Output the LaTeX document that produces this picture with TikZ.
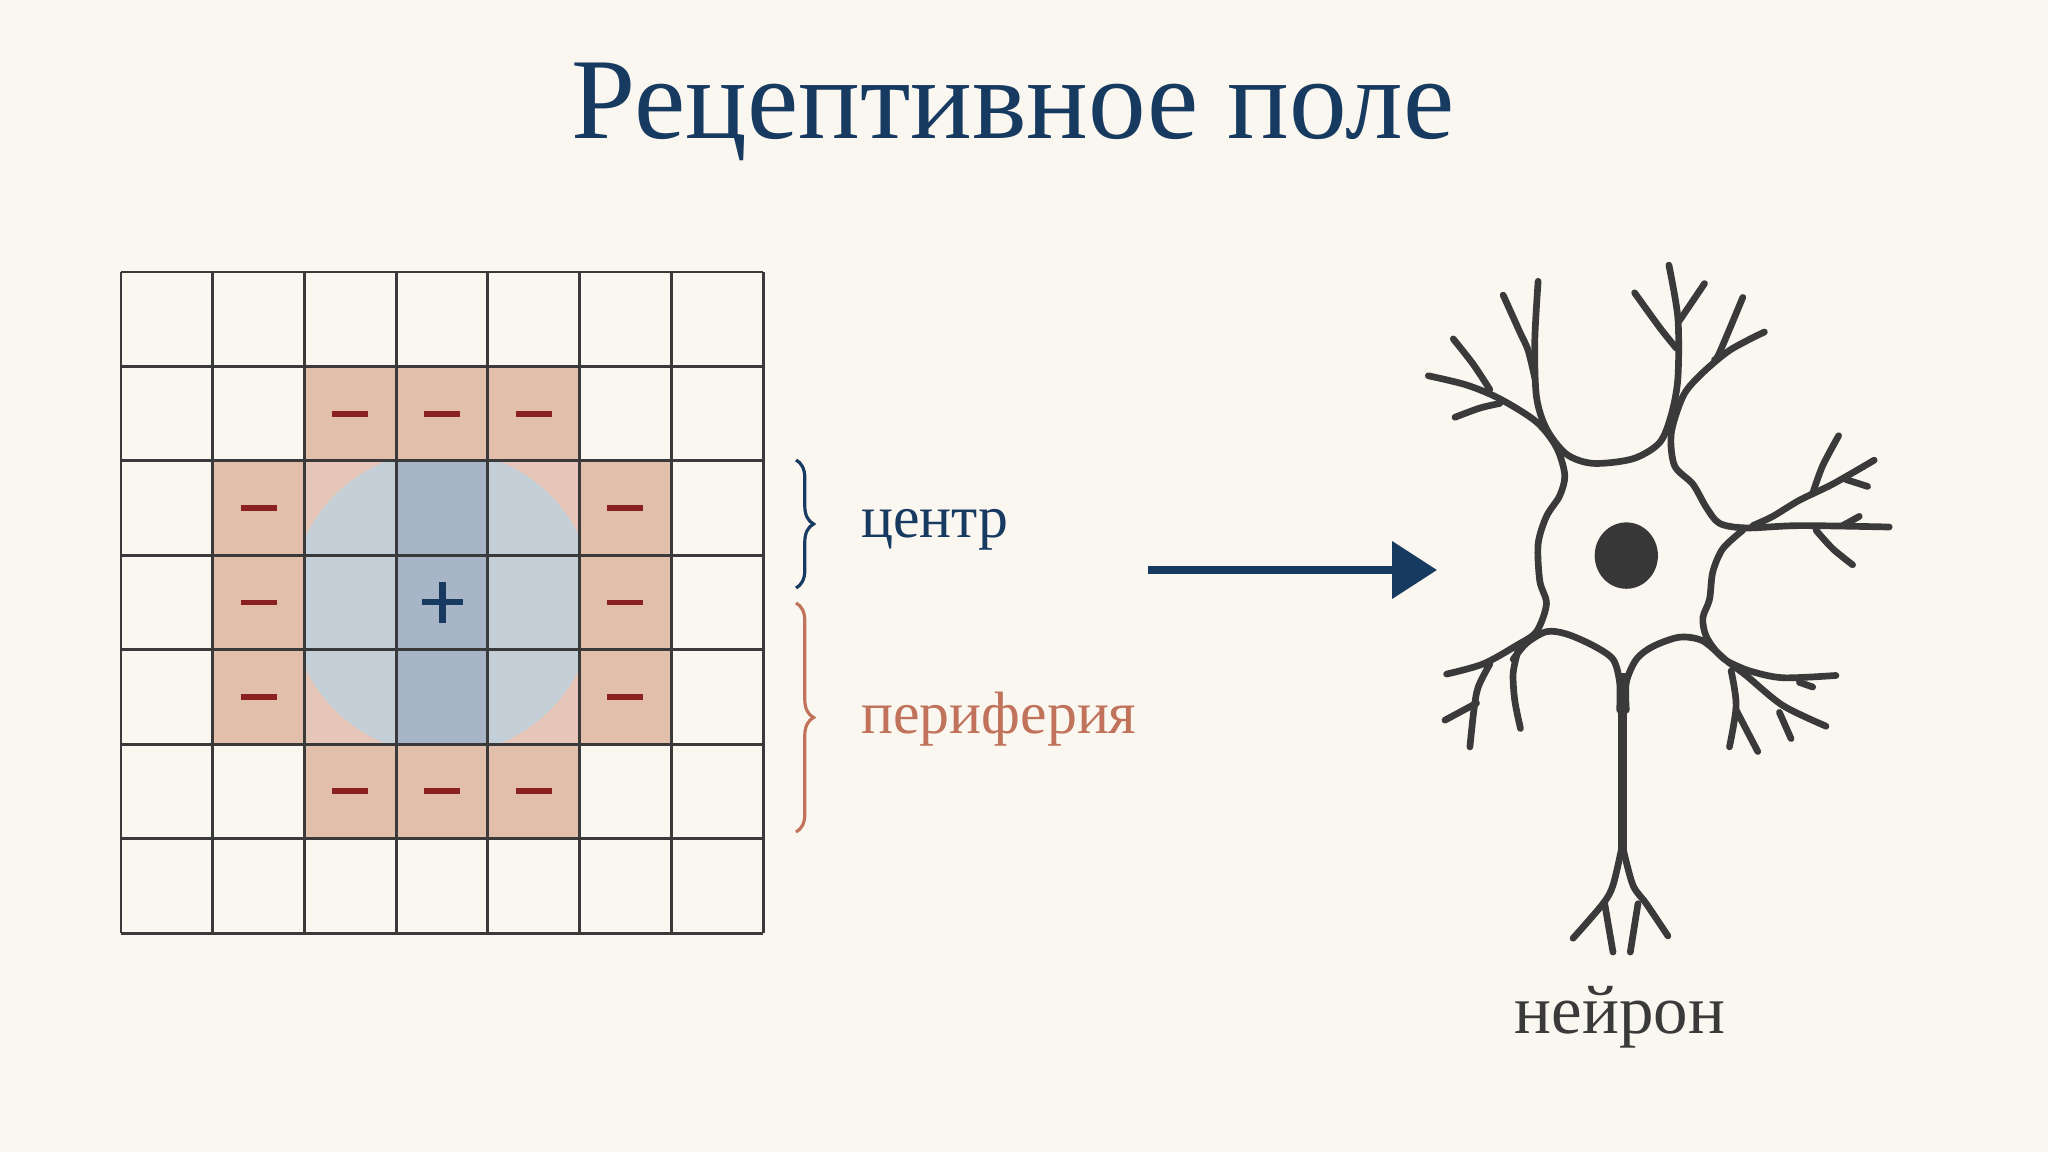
\documentclass[tikz,border=0pt]{standalone}
\usepackage{fontspec}
\setmainfont{Liberation Serif}
\usetikzlibrary{decorations.pathreplacing,arrows.meta}
\definecolor{bg}{HTML}{FAF6F0}
\definecolor{navy}{HTML}{163A60}
\definecolor{peach}{HTML}{E2BFAB}
\definecolor{peachl}{HTML}{E5C6B8}
\definecolor{bluel}{HTML}{C5CFD8}
\definecolor{blued}{HTML}{A7B5C7}
\definecolor{minusred}{HTML}{8B2020}
\definecolor{orng}{HTML}{C0735A}
\definecolor{ink}{HTML}{3A3A3A}
\tikzset{
  gridline/.style={draw=ink,line width=0.85pt},
  minus/.style={minusred,line width=1.7pt},
  brace/.style={decorate,decoration={brace,amplitude=5pt},line width=0.9pt},
  lbl/.style={anchor=west,font=\fontsize{17}{20}\selectfont},
  neu/.style={draw=ink,line width=1.9pt,line cap=round,line join=round},
}
\begin{document}
\begin{tikzpicture}[x=0.01cm,y=-0.01cm]
\fill[bg] (0,0) rectangle (2048,1152);
\useasboundingbox (0,0) rectangle (2048,1152);
\node[navy,font=\fontsize{32.8}{40}\selectfont] (title) at (1013,112) {Рецептивное поле};
% grid geometry
\def\gx#1{121+#1*91.714}
\def\gy#1{272+#1*94.43}
% peach cells
\foreach \c/\r in {2/1,3/1,4/1,2/5,3/5,4/5,1/2,1/3,1/4,5/2,5/3,5/4}
  \fill[peach] ({\gx{\c}},{\gy{\r}}) rectangle ({\gx{(\c+1)}},{\gy{(\r+1)}});
\fill[peachl] ({\gx{2}},{\gy{2}}) rectangle ({\gx{5}},{\gy{5}});
\begin{scope}
\clip ({\gx{2}},{\gy{2}}) rectangle ({\gx{5}},{\gy{5}});
\fill[bluel] (442.5,602.5) circle (152);
\end{scope}
\fill[blued] ({\gx{3}},{\gy{2}}) rectangle ({\gx{4}},{\gy{5}});
\foreach \i in {0,...,7} {
  \draw[gridline] ({\gx{\i}},272) -- ({\gx{\i}},933);
  \draw[gridline] (121,{\gy{\i}}) -- (763,{\gy{\i}});
}
\foreach \c/\r in {2/1,3/1,4/1,2/5,3/5,4/5,1/2,1/3,1/4,5/2,5/3,5/4}
  \draw[minus] ({\gx{\c}+27.9},{\gy{\r}+47.2}) -- ({\gx{\c}+63.8},{\gy{\r}+47.2});
\draw[navy,line width=1.9pt] (422,602) -- (463,602) (442.5,582) -- (442.5,623);
% braces
\coordinate (b1t) at (796,460); \coordinate (b1b) at (796,588);
\coordinate (b2t) at (796,603); \coordinate (b2b) at (796,832);
\draw[brace,navy] (b1t) -- (b1b);
\draw[brace,orng] (b2t) -- (b2b);
\node[lbl,navy] (centr) at (849,530) {центр};
\node[lbl,orng] (peri) at (849,719) {периферия};
% arrow
\coordinate (a1) at (1148,570);
\coordinate (a2) at (1437,570);
\draw[navy,line width=2pt,-{Triangle[length=12.8pt,width=16pt]}] (a1) -- (a2);
% neuron
\begin{scope}[shift={(1400,249)},x=0.003333cm,y=-0.004604cm]
\fill[ink!95!black] (680,665) ellipse (95 and 72);
\draw[neu] plot[smooth] coordinates {(85,275) (200,295) (300,325) (410,375) (470,430) (495,490) (480,535) (440,580) (415,640) (420,720) (440,770) (410,830) (350,860) (250,900) (140,922)};
\draw[neu] plot[smooth] coordinates {(415,70) (405,200) (410,320) (440,390) (500,445) (580,465) (700,455) (780,420) (815,360) (835,280) (835,150) (808,35)};
\draw[neu] plot[smooth] coordinates {(160,195) (220,250) (270,305)};
\draw[neu] plot[smooth] coordinates {(310,100) (360,180) (385,220) (405,280)};
\draw[neu] plot[smooth] coordinates {(165,365) (240,345) (300,335)};
\draw[neu] plot[smooth] coordinates {(705,95) (780,170) (830,215)};
\draw[neu] plot[smooth] coordinates {(915,75) (840,155)};
\draw[neu] plot[smooth] coordinates {(1030,105) (960,225) (945,240)};
\draw[neu] plot[smooth] coordinates {(1095,180) (990,220) (900,275) (850,320) (815,400) (825,470) (880,510) (920,560) (960,595) (1040,605) (1200,600) (1470,603)};
\draw[neu] plot[smooth] coordinates {(1318,405) (1270,470) (1240,530)};
\draw[neu] plot[smooth] coordinates {(1425,458) (1300,510) (1200,545) (1120,580) (1060,600)};
\draw[neu] plot[smooth] coordinates {(1340,500) (1405,515)};
\draw[neu] plot[smooth] coordinates {(1380,580) (1330,600)};
\draw[neu] plot[smooth] coordinates {(1360,685) (1300,650) (1250,610)};
\draw[neu] plot[smooth] coordinates {(1030,610) (970,650) (940,700) (930,760) (910,800) (920,840) (960,880) (1040,925) (1150,990) (1280,1035)};
\draw[neu] plot[smooth] coordinates {(1310,925) (1150,930) (1050,915) (985,895)};
\draw[neu] plot[smooth] coordinates {(680,1000) (680,940) (710,890) (760,862) (840,842) (910,850) (975,890)};
\draw[neu] plot[smooth] coordinates {(660,1000) (660,940) (640,890) (580,860) (500,835) (440,830) (380,855) (340,890)};
\draw[neu,line width=2.6pt,line cap=butt] (668,920) -- (668,1310);
\draw[neu] plot[smooth] coordinates {(355,870) (340,920) (345,980) (362,1040)};
\draw[neu] plot[smooth] coordinates {(270,900) (235,950) (222,1000) (210,1080)};
\draw[neu] plot[smooth] coordinates {(230,985) (135,1022)};
\draw[neu] plot[smooth] coordinates {(995,915) (1010,990) (990,1080)};
\draw[neu] plot[smooth] coordinates {(1010,1000) (1075,1090)};
\draw[neu] plot[smooth] coordinates {(1140,1005) (1175,1062)};
\draw[neu] plot[smooth] coordinates {(1200,940) (1240,950)};
\draw[neu] plot[smooth] coordinates {(666,1300) (640,1380) (610,1420) (520,1495)};
\draw[neu] plot[smooth] coordinates {(670,1300) (700,1380) (740,1420) (805,1490)};
\draw[neu] plot[smooth] coordinates {(615,1420) (640,1525)};
\draw[neu] plot[smooth] coordinates {(715,1420) (692,1525)};
\end{scope}
\node[ink,font=\fontsize{19.6}{24}\selectfont] (neuron) at (1620,1017) {нейрон};
\end{tikzpicture}
\end{document}
